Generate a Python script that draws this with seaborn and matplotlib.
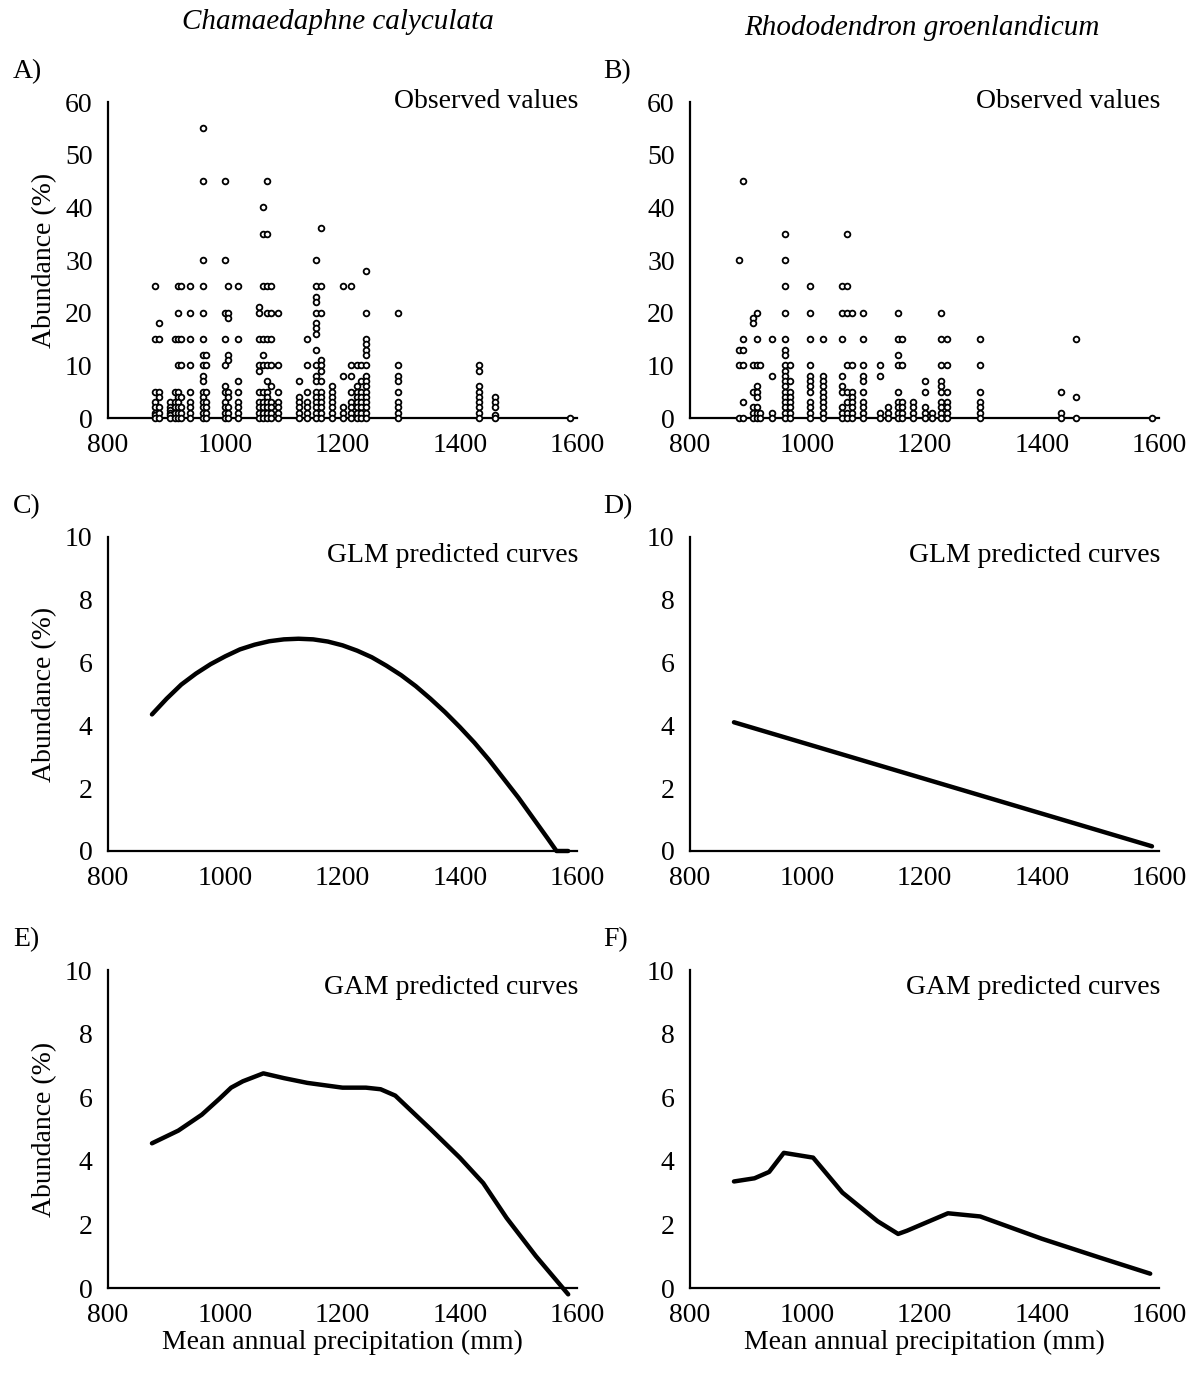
import numpy as np
import pandas as pd
import matplotlib
matplotlib.use("Agg")
import matplotlib.pyplot as plt
import seaborn as sns

sns.set_theme(style="white")
plt.rcParams['font.family'] = ['Liberation Serif', 'DejaVu Serif']

# ---------------- Data ----------------
# Observed values, Chamaedaphne calyculata (precipitation column, abundances)
obs_a_x = [880, 887, 905, 915, 920, 925, 940, 962, 968, 1000, 1005, 1022,
           1058, 1065, 1072, 1078, 1090, 1125, 1140, 1155, 1163, 1182, 1201,
           1215, 1225, 1232, 1240, 1295, 1433, 1460, 1588]
obs_a_y = [
    [25, 15, 5, 3, 2, 1, 0.5, 0],
    [18, 15, 5, 4, 2, 1, 0],
    [3, 2, 1.5, 1, 0.5, 0],
    [15, 5, 3, 2, 1, 0],
    [25, 20, 15, 10, 5, 4, 3, 2, 1, 0],
    [25, 15, 10, 4, 2, 1, 0],
    [25, 20, 15, 10, 5, 3, 2, 1, 0],
    [55, 45, 30, 25, 20, 15, 12, 10, 8, 7, 5, 4, 3, 2, 1, 0],
    [12, 10, 5, 3, 2, 1, 0],
    [45, 30, 20, 15, 10, 6, 5, 3, 2, 1, 0],
    [25, 20, 19, 12, 11, 5, 4, 2, 1, 0],
    [25, 15, 7, 5, 3, 2, 1, 0],
    [21, 20, 15, 10, 9, 5, 3, 2, 1, 0],
    [40, 35, 25, 15, 12, 10, 5, 3, 2, 1, 0],
    [45, 35, 25, 20, 15, 10, 7, 5, 4, 3, 2, 1, 0],
    [25, 20, 15, 10, 6, 3, 2, 1, 0],
    [20, 10, 5, 3, 2, 1, 0],
    [7, 4, 3, 2, 1, 0],
    [15, 10, 5, 3, 2, 1, 0],
    [30, 25, 23, 22, 20, 18, 17, 16, 13, 10, 8, 7, 5, 4, 3, 2, 1, 0],
    [36, 25, 20, 11, 10, 9, 7, 5, 4, 3, 2, 1, 0],
    [6, 5, 4, 3, 2, 1, 0],
    [25, 8, 2, 1, 0],
    [25, 10, 8, 5, 3, 2, 1, 0],
    [10, 6, 5, 4, 3, 2, 1, 0],
    [10, 7, 5, 4, 3, 2, 1, 0],
    [28, 20, 15, 14, 13, 12, 10, 8, 7, 6, 5, 4, 3, 2, 1, 0],
    [20, 10, 8, 7, 5, 3, 2, 1, 0],
    [10, 9, 6, 5, 4, 3, 2, 1, 0],
    [4, 3, 2, 0.5, 0],
    [0],
]

# Observed values, Rhododendron groenlandicum
obs_b_x = [884, 890, 908, 914, 919, 940, 962, 971, 1005, 1027, 1060, 1068,
           1076, 1095, 1124, 1138, 1155, 1162, 1180, 1201, 1213, 1228, 1238,
           1295, 1433, 1459, 1588]
obs_b_y = [
    [30, 13, 10, 0],
    [45, 15, 13, 10, 3, 0],
    [19, 18, 10, 5, 2, 1, 0],
    [20, 15, 10, 6, 5, 4, 2, 1, 0],
    [10, 1, 0],
    [15, 8, 1, 0],
    [35, 30, 25, 20, 15, 13, 12, 10, 9, 8, 7, 6, 5, 4, 3, 2, 1, 0],
    [10, 7, 5, 4, 3, 2, 1, 0],
    [25, 20, 15, 10, 8, 7, 6, 5, 3, 2, 1, 0],
    [15, 8, 7, 6, 5, 4, 3, 2, 1, 0],
    [25, 20, 15, 8, 6, 5, 2, 1, 0],
    [35, 25, 20, 10, 5, 3, 1, 0],
    [20, 10, 5, 4, 3, 2, 1, 0],
    [20, 15, 10, 8, 7, 5, 3, 2, 1, 0],
    [10, 8, 1, 0],
    [2, 1, 0],
    [20, 15, 12, 10, 5, 3, 2, 1, 0],
    [15, 10, 3, 2, 1, 0],
    [3, 2, 1, 0],
    [7, 5, 2, 1, 0],
    [1, 0],
    [20, 15, 10, 7, 6, 5, 3, 2, 1, 0],
    [15, 10, 5, 3, 2, 1, 0],
    [15, 10, 5, 3, 2, 1, 0],
    [5, 1, 0],
    [15, 4, 0],
    [0],
]

# GLM predicted curves
glm_c_x = [875, 900, 925, 950, 975, 1000, 1025, 1050, 1075, 1100, 1125,
           1150, 1175, 1200, 1225, 1250, 1275, 1300, 1325, 1350, 1375, 1400,
           1425, 1450, 1475, 1500, 1525, 1550, 1565, 1585]
glm_c_y = [4.35, 4.85, 5.3, 5.65, 5.95, 6.2, 6.42, 6.57, 6.68, 6.74, 6.76,
           6.74, 6.67, 6.55, 6.38, 6.17, 5.9, 5.6, 5.25, 4.85, 4.42, 3.95,
           3.45, 2.9, 2.3, 1.7, 1.05, 0.4, 0.0, 0.0]
glm_d_x = [875, 1588]
glm_d_y = [4.1, 0.15]

# GAM predicted curves
gam_e_x = [875, 920, 960, 990, 1010, 1030, 1065, 1100, 1140, 1200, 1240,
           1265, 1290, 1350, 1400, 1440, 1480, 1530, 1585]
gam_e_y = [4.55, 4.95, 5.45, 5.95, 6.3, 6.5, 6.75, 6.6, 6.45, 6.3, 6.3,
           6.25, 6.05, 5.0, 4.1, 3.3, 2.2, 1.0, -0.2]
gam_f_x = [875, 910, 935, 960, 1010, 1060, 1120, 1155, 1170, 1240, 1295,
           1400, 1500, 1585]
gam_f_y = [3.35, 3.45, 3.65, 4.25, 4.1, 3.0, 2.1, 1.7, 1.8, 2.35, 2.25,
           1.55, 0.95, 0.45]

species = ["Chamaedaphne calyculata", "Rhododendron groenlandicum"]
panel_letters = ["A)", "B)", "C)", "D)", "E)", "F)"]
panel_notes = ["Observed values", "GLM predicted curves", "GAM predicted curves"]
x_label = "Mean annual precipitation (mm)"
y_label = "Abundance (%)"


def long_form(xs, ys):
    rows = [(x, v) for x, col in zip(xs, ys) for v in col]
    return pd.DataFrame(rows, columns=["precip", "abund"])


df_a = long_form(obs_a_x, obs_a_y)
df_b = long_form(obs_b_x, obs_b_y)
df_c = pd.DataFrame({"precip": glm_c_x, "abund": glm_c_y})
df_d = pd.DataFrame({"precip": glm_d_x, "abund": glm_d_y})
df_e = pd.DataFrame({"precip": gam_e_x, "abund": gam_e_y})
df_f = pd.DataFrame({"precip": gam_f_x, "abund": gam_f_y})

# ---------------- Figure ----------------
W, H = 1198, 1374
fig = plt.figure(figsize=(W / 100, H / 100), dpi=100)


def ax_at(x0, x1, ytop, ybot):
    return fig.add_axes([x0 / W, 1 - ybot / H, (x1 - x0) / W, (ybot - ytop) / H])


cols = [(108, 577), (690, 1159)]
rows = [(102, 418), (537, 851), (970, 1288)]
axes = [[ax_at(c[0], c[1], r[0], r[1]) for c in cols] for r in rows]

FS = 20
NOTE_FS = 20
note_y = [102, 555, 988]

for ri, row in enumerate(axes):
    for ci, ax in enumerate(row):
        if ri == 0:
            d = df_a if ci == 0 else df_b
            sns.scatterplot(data=d, x="precip", y="abund", ax=ax, marker="o",
                            s=17, facecolor="white", edgecolor="black",
                            linewidth=1.3, clip_on=False, zorder=3)
            ax.set_ylim(0, 60)
            ax.set_yticks(np.arange(0, 61, 10))
            ax.set_yticks(np.arange(0, 61, 5), minor=True)
        else:
            if ri == 1:
                d = df_c if ci == 0 else df_d
            else:
                d = df_e if ci == 0 else df_f
            sns.lineplot(data=d, x="precip", y="abund", ax=ax, color="black",
                         linewidth=3.2, sort=False, estimator=None,
                         clip_on=False, zorder=3)
            ax.set_ylim(0, 10)
            ax.set_yticks(np.arange(0, 11, 2))
            ax.set_yticks(np.arange(0, 11, 1), minor=True)
        ax.set_xlim(800, 1600)
        ax.set_xticks(np.arange(800, 1601, 200))
        ax.set_xticks(np.arange(800, 1601, 50), minor=True)
        for s in ["top", "right"]:
            ax.spines[s].set_visible(False)
        for s in ["left", "bottom"]:
            ax.spines[s].set_color("black")
            ax.spines[s].set_linewidth(1.6)
        ax.tick_params(axis="both", which="both", direction="in", color="black",
                       width=1.2, labelsize=FS, labelcolor="black")
        ax.tick_params(axis="both", which="both", length=5)
        ax.tick_params(axis="x", which="major", pad=11)
        ax.tick_params(axis="y", which="major", pad=11)
        ax.set_xlabel(x_label if ri == 2 else "", fontsize=FS, color="black",
                      labelpad=1)
        ax.set_ylabel(y_label if ci == 0 else "", fontsize=FS, color="black",
                      labelpad=6)
        x_right = cols[ci][1] + 1
        fig.text(x_right / W, 1 - note_y[ri] / H, panel_notes[ri],
                 ha="right", va="center", fontsize=NOTE_FS, color="black")
        ax.set_facecolor("white")
        letter = panel_letters[ri * 2 + ci]
        lx = 13 if ci == 0 else 603
        ly = rows[ri][0] - 30
        fig.text(lx / W, 1 - ly / H, letter, ha="left", va="center",
                 fontsize=FS, color="black")

fig.text(338 / W, 1 - 22 / H, species[0], ha="center", va="center",
         fontsize=21, style="italic", color="black")
fig.text(922 / W, 1 - 28 / H, species[1], ha="center", va="center",
         fontsize=21, style="italic", color="black")

fig.savefig("out.png", dpi=100, facecolor="white")
